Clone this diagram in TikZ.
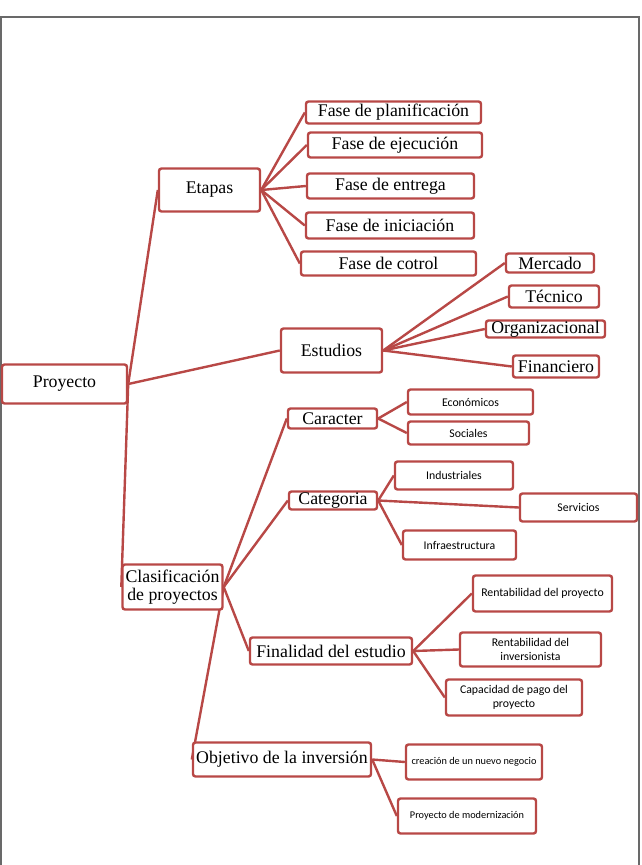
\documentclass[tikz,border=0pt]{standalone}
\usepackage{fontspec}
\setmainfont{Liberation Serif}
\newfontfamily\leaffont{Carlito}
\usepackage{tikz}
\usetikzlibrary{backgrounds}
\definecolor{mapred}{RGB}{184,72,70}
\definecolor{framegray}{RGB}{105,105,105}

\begin{document}
\begin{tikzpicture}[x=1pt,y=-1pt,
  box/.style={draw=mapred,line width=2.4pt,rounded corners=2.5pt,fill=white,
    inner sep=0pt,align=center,font=\fontsize{17.8}{18.5}\selectfont},
  leaf/.style={box,font=\leaffont\fontsize{11.8}{14.5}\selectfont},
  smallleaf/.style={box,font=\leaffont\fontsize{10.3}{12.5}\selectfont},
  link/.style={draw=mapred,line width=2.4pt}]
  \useasboundingbox (0,0) rectangle (641,865);
  \draw[framegray,line width=1.2pt] (1,865) -- (1,17) -- (639,17) -- (639,865);

  % root and first level
  \node[box,minimum width=125pt,minimum height=39pt] (proy) at (64.5,384) {Proyecto};
  \node[box,minimum width=101pt,minimum height=43pt] (etapas) at (209.5,190) {Etapas};
  \node[box,minimum width=101pt,minimum height=44pt] (estudios) at (331.5,350.5) {Estudios};
  \node[box,minimum width=100pt,minimum height=45pt] (clasif) at (172.5,587) {Clasificación\\de proyectos};

  % etapas
  \node[box,minimum width=175pt,minimum height=22pt] (planif) at (393.5,112.5) {Fase de planificación};
  \node[box,minimum width=174pt,minimum height=25pt] (ejec) at (395,145) {Fase de ejecución};
  \node[box,minimum width=167pt,minimum height=25pt] (entrega) at (390.5,186) {Fase de entrega};
  \node[box,minimum width=168pt,minimum height=26pt] (inic) at (390,225.5) {Fase de iniciación};
  \node[box,minimum width=175pt,minimum height=24pt] (cotrol) at (388.5,263.5) {Fase de cotrol};

  % estudios
  \node[box,minimum width=88pt,minimum height=19pt] (mercado) at (550,263) {Mercado};
  \node[box,minimum width=90pt,minimum height=22pt] (tecnico) at (554,296.5) {Técnico};
  \node[box,minimum width=119pt,minimum height=17pt] (organiz) at (545.5,329) {Organizacional};
  \node[box,minimum width=86pt,minimum height=22pt] (financ) at (556,366.5) {Financiero};

  % clasificacion
  \node[box,minimum width=89pt,minimum height=20pt] (caracter) at (332.5,418.5) {Caracter};
  \node[box,minimum width=88pt,minimum height=18pt] (categoria) at (333,500.5) {Categoria};
  \node[box,minimum width=162pt,minimum height=27pt] (finalidad) at (331,651) {Finalidad del estudio};
  \node[box,minimum width=178pt,minimum height=34pt] (objetivo) at (282,759.5) {Objetivo de la inversión};

  \node[leaf,minimum width=125pt,minimum height=25pt] (economicos) at (470.5,402) {Económicos};
  \node[leaf,minimum width=121pt,minimum height=23pt] (sociales) at (468.5,433) {Sociales};
  \node[leaf,minimum width=118pt,minimum height=28pt] (industriales) at (454,475.5) {Industriales};
  \node[leaf,minimum width=117pt,minimum height=28pt] (servicios) at (578.5,507.5) {Servicios};
  \node[leaf,minimum width=113pt,minimum height=29pt] (infra) at (459.5,545) {Infraestructura};
  \node[leaf,minimum width=139pt,minimum height=36pt] (rentproy) at (542.5,593.5) {Rentabilidad del proyecto};
  \node[leaf,minimum width=141pt,minimum height=34pt] (rentinv) at (530.5,649.5) {Rentabilidad del\\inversionista};
  \node[leaf,minimum width=136pt,minimum height=36pt] (capacidad) at (514,697.5) {Capacidad de pago del\\proyecto};
  \node[smallleaf,minimum width=136pt,minimum height=35pt] (creacion) at (474,762) {creación de un nuevo negocio};
  \node[smallleaf,minimum width=138pt,minimum height=35pt] (moderniz) at (467,816) {Proyecto de modernización};

  \begin{scope}[on background layer]
    \foreach \c in {etapas,estudios,clasif}
      \draw[link] (proy.east) -- (\c.west);
    \foreach \c in {planif,ejec,entrega,inic,cotrol}
      \draw[link] (etapas.east) -- (\c.west);
    \foreach \c in {mercado,tecnico,organiz,financ}
      \draw[link] (estudios.east) -- (\c.west);
    \foreach \c in {caracter,categoria,finalidad,objetivo}
      \draw[link] (clasif.east) -- (\c.west);
    \foreach \c in {economicos,sociales}
      \draw[link] (caracter.east) -- (\c.west);
    \foreach \c in {industriales,servicios,infra}
      \draw[link] (categoria.east) -- (\c.west);
    \foreach \c in {rentproy,rentinv,capacidad}
      \draw[link] (finalidad.east) -- (\c.west);
    \foreach \c in {creacion,moderniz}
      \draw[link] (objetivo.east) -- (\c.west);
  \end{scope}
\end{tikzpicture}
\end{document}
